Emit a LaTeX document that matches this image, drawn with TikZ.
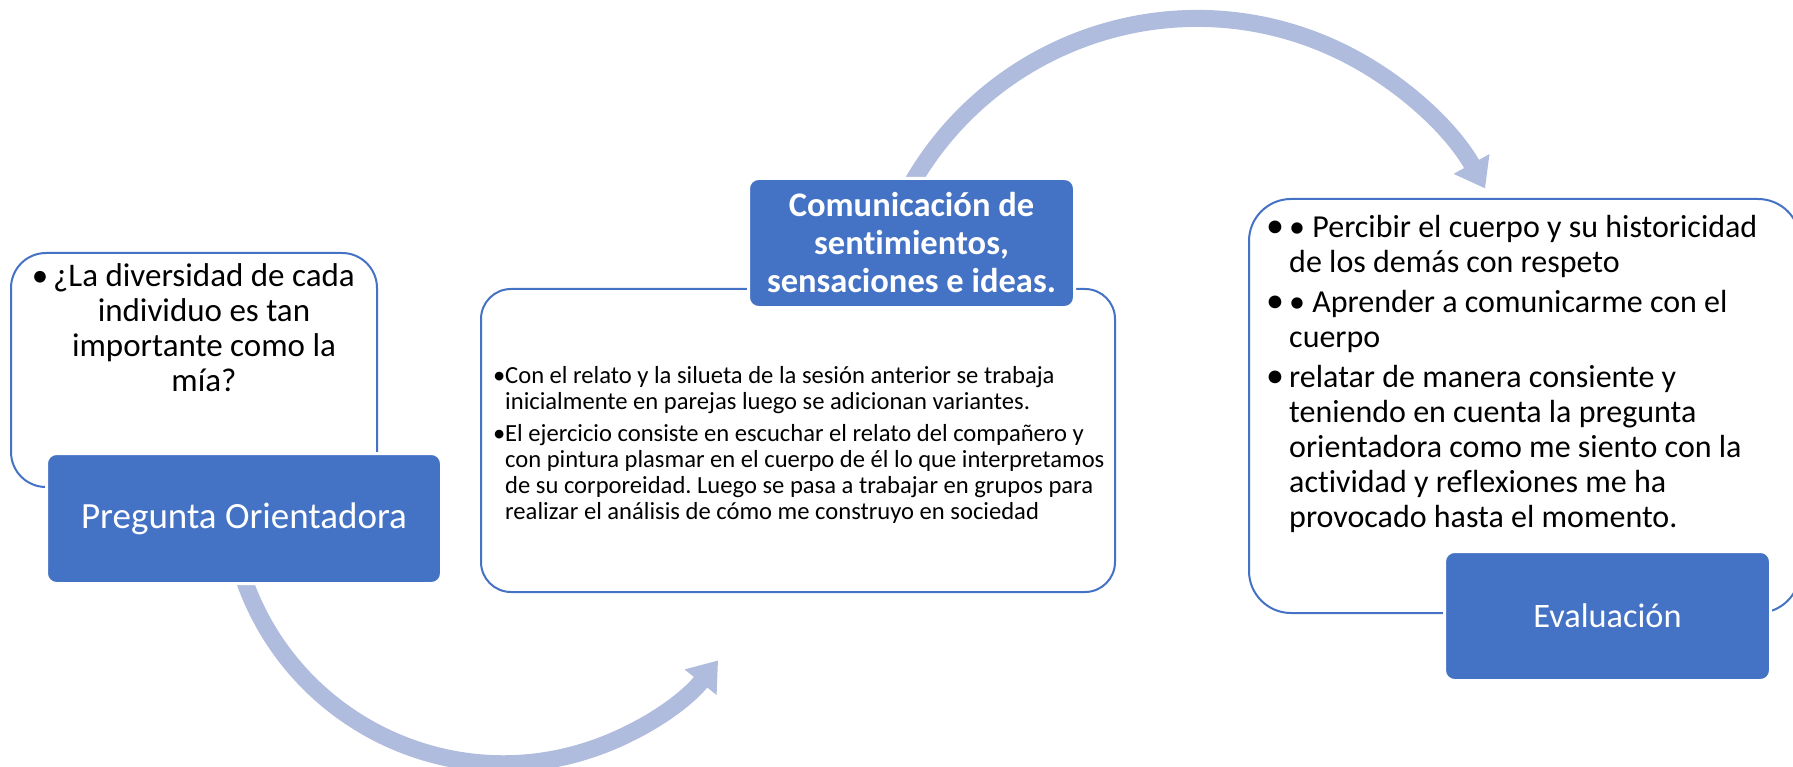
\documentclass[tikz,border=0pt]{standalone}
\usepackage{fontspec}
\setmainfont{Carlito}[Ligatures=NoCommon]
\frenchspacing
\usetikzlibrary{arrows.meta}
\definecolor{boxblue}{HTML}{4472C4}
\definecolor{arrowblue}{HTML}{AFBCDD}
\tikzset{
  whitebox/.style={draw=boxblue, line width=2pt, fill=white, inner sep=0pt},
  bluebox/.style={draw=white, line width=3pt, fill=boxblue, text=white, rounded corners=10pt, inner sep=0pt, align=center},
  flowarrow/.style={draw=arrowblue, line width=17pt, -{Triangle[length=28pt,width=39pt]}},
  bodytext/.style={inner sep=0pt, text=black}
}
\begin{document}
\begin{tikzpicture}[x=1pt,y=-1pt]
\useasboundingbox (0,0) rectangle (1793,767);
% white boxes
\node[whitebox, rounded corners=35pt, minimum width=366pt, minimum height=234pt] (w1) at (194,370) {};
\node[whitebox, rounded corners=30pt, minimum width=634pt, minimum height=303pt] (w2) at (798,440.5) {};
\node[whitebox, rounded corners=42pt, minimum width=551pt, minimum height=414pt] (w3) at (1524.5,406) {};
% arrows
\coordinate (a1s) at (240.7,569.3);
\coordinate (a2s) at (903.9,198.1);
\draw[flowarrow] (a1s) arc[start angle=163, end angle=38.6, radius=274.7];
\draw[flowarrow] (a2s) arc[start angle=-153, end angle=-28.9, radius=329];
% blue boxes
\node[bluebox, minimum width=395pt, minimum height=130pt, font=\fontsize{37pt}{42pt}\selectfont] (b1) at (244,518.5) {Pregunta Orientadora};
\node[bluebox, minimum width=326pt, minimum height=129pt, font=\fontsize{34.5pt}{38pt}\selectfont\bfseries] (b2) at (911.5,243) {Comunicación de\\ sentimientos,\\ sensaciones e ideas.};
\node[bluebox, minimum width=326pt, minimum height=129pt, font=\fontsize{34.3pt}{40pt}\selectfont] (b3) at (1607.5,616) {Evaluación};
% texts
\node[bodytext, anchor=north, align=center, font=\fontsize{33pt}{35pt}\selectfont] (t1) at (204,263.5)
 {\llap{•\hspace{5pt}}¿La diversidad de cada\\ individuo es tan\\ importante como la\\ mía?};
\node[bodytext, anchor=north west, align=left, font=\fontsize{24.6pt}{26pt}\selectfont] (t2) at (493,366)
 {\makebox[12pt][l]{•}Con el relato y la silueta de la sesión anterior se trabaja\\
  \hspace*{12pt}inicialmente en parejas luego se adicionan variantes.\\[6pt]
  \makebox[12pt][l]{•}El ejercicio consiste en escuchar el relato del compañero y\\
  \hspace*{12pt}con pintura plasmar en el cuerpo de él lo que interpretamos\\
  \hspace*{12pt}de su corporeidad. Luego se pasa a trabajar en grupos para\\
  \hspace*{12pt}realizar el análisis de cómo me construyo en sociedad};
\node[bodytext, anchor=north west, align=left, font=\fontsize{32pt}{35pt}\selectfont] (t3) at (1266,215)
 {\makebox[23pt][l]{\fontsize{36pt}{35pt}\selectfont •}• Percibir el cuerpo y su historicidad\\
  \hspace*{23pt}de los demás con respeto\\[5pt]
  \makebox[23pt][l]{\fontsize{36pt}{35pt}\selectfont •}• Aprender a comunicarme con el\\
  \hspace*{23pt}cuerpo\\[5pt]
  \makebox[23pt][l]{\fontsize{36pt}{35pt}\selectfont •}relatar de manera consiente y\\
  \hspace*{23pt}teniendo en cuenta la pregunta\\
  \hspace*{23pt}orientadora como me siento con la\\
  \hspace*{23pt}actividad y reflexiones me ha\\
  \hspace*{23pt}provocado hasta el momento.};
\end{tikzpicture}
\end{document}
